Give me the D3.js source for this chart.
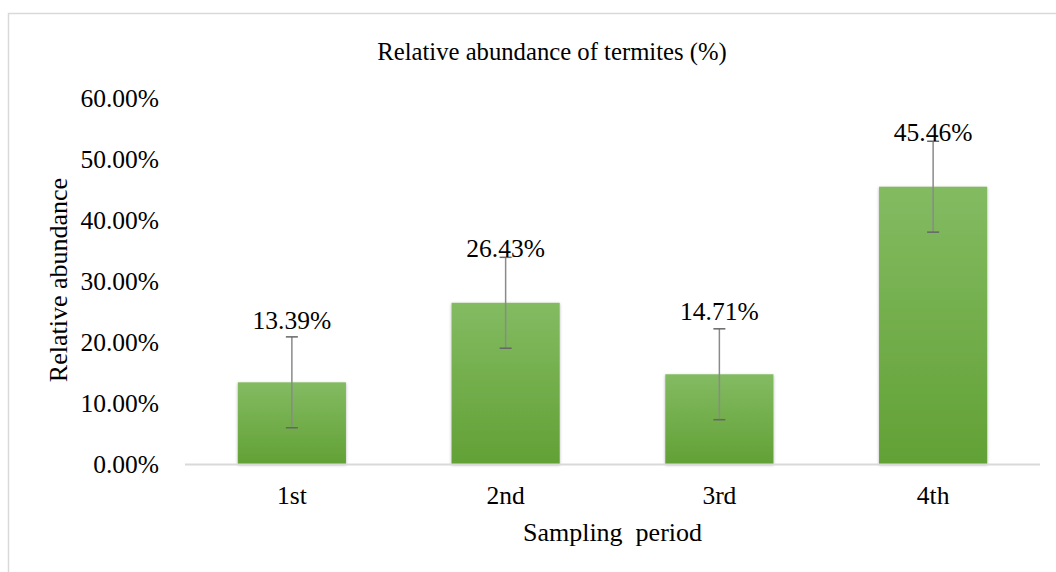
<!DOCTYPE html>
<html>
<head>
<meta charset="utf-8">
<style>
  body { margin: 0; background: #fff; }
  svg { display: block; font-family: 'Liberation Serif', 'Times New Roman', serif; }
</style>
</head>
<body>
<svg width="1056" height="572"></svg>
<script src="https://d3js.org/d3.v7.min.js"></script>
<script>
  // data
  let periods = ["1st", "2nd", "3rd", "4th"];
  let abundance = [13.39, 26.43, 14.71, 45.46];
  let errors = [7.45, 7.45, 7.45, 7.45];
  let yTicks = [0, 10, 20, 30, 40, 50, 60];

  let svg = d3.select("svg");

  let plotLeft = 185, plotRight = 1040, plotTop = 98, plotBottom = 464;
  // small manual nudges of the value labels, as in the original
  let labelNudge = [-8, 0, -9, 0];

  let x = d3.scaleBand()
    .domain(periods)
    .range([plotLeft, plotRight])
    .paddingInner(0.494)
    .paddingOuter(0.247);

  let y = d3.scaleLinear()
    .domain([0, 60])
    .range([plotBottom, plotTop]);

  // chart border
  svg.append("rect")
    .attr("x", 8.5).attr("y", 13.5)
    .attr("width", 1100).attr("height", 600)
    .style("fill", "none")
    .style("stroke", "#d9d9d9")
    .style("stroke-width", 1.5);

  let defs = svg.append("defs");
  let grad = defs.append("linearGradient")
    .attr("id", "barGrad")
    .attr("x1", 0).attr("y1", 0).attr("x2", 0).attr("y2", 1);
  grad.append("stop").attr("offset", "0%").attr("stop-color", "#83bb62");
  grad.append("stop").attr("offset", "100%").attr("stop-color", "#62a135");

  let shadow = defs.append("filter").attr("id", "shadow")
    .attr("x", "-10%").attr("y", "-10%").attr("width", "120%").attr("height", "120%");
  shadow.append("feDropShadow")
    .attr("dx", 0).attr("dy", 1).attr("stdDeviation", 1.5)
    .attr("flood-color", "#000").attr("flood-opacity", 0.3);

  // title
  svg.append("text")
    .text("Relative abundance of termites (%)")
    .attr("x", 552).attr("y", 60)
    .attr("text-anchor", "middle")
    .style("font-size", "24.7px")
    .style("fill", "#000");

  // y axis (labels only)
  let yAxis = d3.axisLeft(y)
    .tickValues(yTicks)
    .tickFormat(d => d.toFixed(2) + "%")
    .tickSize(0)
    .tickPadding(26);

  let gy = svg.append("g")
    .attr("transform", `translate(${plotLeft},0)`)
    .call(yAxis);
  gy.select(".domain").remove();
  gy.selectAll("text")
    .style("font-family", "'Liberation Serif', 'Times New Roman', serif")
    .style("font-size", "25.5px")
    .style("fill", "#000");

  // x axis
  let xAxis = d3.axisBottom(x).tickSize(0).tickPadding(22);
  let gx = svg.append("g")
    .attr("transform", `translate(0,${plotBottom})`)
    .call(xAxis);
  gx.select(".domain").remove();
  gx.selectAll("text")
    .style("font-family", "'Liberation Serif', 'Times New Roman', serif")
    .style("font-size", "25.5px")
    .style("fill", "#000");

  // bars
  svg.selectAll(".bar")
    .data(periods)
    .join("rect")
    .attr("class", "bar")
    .attr("x", d => x(d))
    .attr("y", (d, i) => y(abundance[i]))
    .attr("width", x.bandwidth())
    .attr("height", (d, i) => plotBottom - y(abundance[i]))
    .style("fill", "url(#barGrad)")
    .attr("filter", "url(#shadow)");

  // baseline
  svg.append("line")
    .attr("x1", plotLeft).attr("x2", plotRight)
    .attr("y1", plotBottom + 0.5).attr("y2", plotBottom + 0.5)
    .style("stroke", "#d9d9d9")
    .style("stroke-width", 2);

  // error bars
  let eb = svg.selectAll(".err")
    .data(periods)
    .join("g")
    .attr("class", "err");

  eb.append("line")
    .attr("x1", d => x(d) + x.bandwidth() / 2)
    .attr("x2", d => x(d) + x.bandwidth() / 2)
    .attr("y1", (d, i) => y(abundance[i] + errors[i]))
    .attr("y2", (d, i) => y(abundance[i] - errors[i]))
    .style("stroke", "#8a8a8a")
    .style("stroke-width", 1.5);

  eb.selectAll(".cap")
    .data((d, i) => [[d, abundance[i] + errors[i]], [d, abundance[i] - errors[i]]])
    .join("line")
    .attr("class", "cap")
    .attr("x1", d => x(d[0]) + x.bandwidth() / 2 - 6)
    .attr("x2", d => x(d[0]) + x.bandwidth() / 2 + 6)
    .attr("y1", d => y(d[1]))
    .attr("y2", d => y(d[1]))
    .style("stroke", "#666")
    .style("stroke-width", 1.5);

  // value labels
  svg.selectAll(".val")
    .data(periods)
    .join("text")
    .attr("class", "val")
    .text((d, i) => abundance[i].toFixed(2) + "%")
    .attr("x", d => x(d) + x.bandwidth() / 2)
    .attr("y", (d, i) => y(abundance[i] + errors[i]) + labelNudge[i])
    .attr("text-anchor", "middle")
    .style("font-size", "25.5px")
    .style("fill", "#000");

  // axis titles
  svg.append("text")
    .text("Relative abundance")
    .attr("transform", `translate(67,${(plotTop + plotBottom) / 2 - 1}) rotate(-90)`)
    .attr("text-anchor", "middle")
    .style("font-size", "26px")
    .style("fill", "#000");

  svg.append("text")
    .text("Sampling\u00a0 period")
    .attr("x", (plotLeft + plotRight) / 2)
    .attr("y", 541)
    .attr("text-anchor", "middle")
    .style("font-size", "26px")
    .style("fill", "#000");
</script>
</body>
</html>
